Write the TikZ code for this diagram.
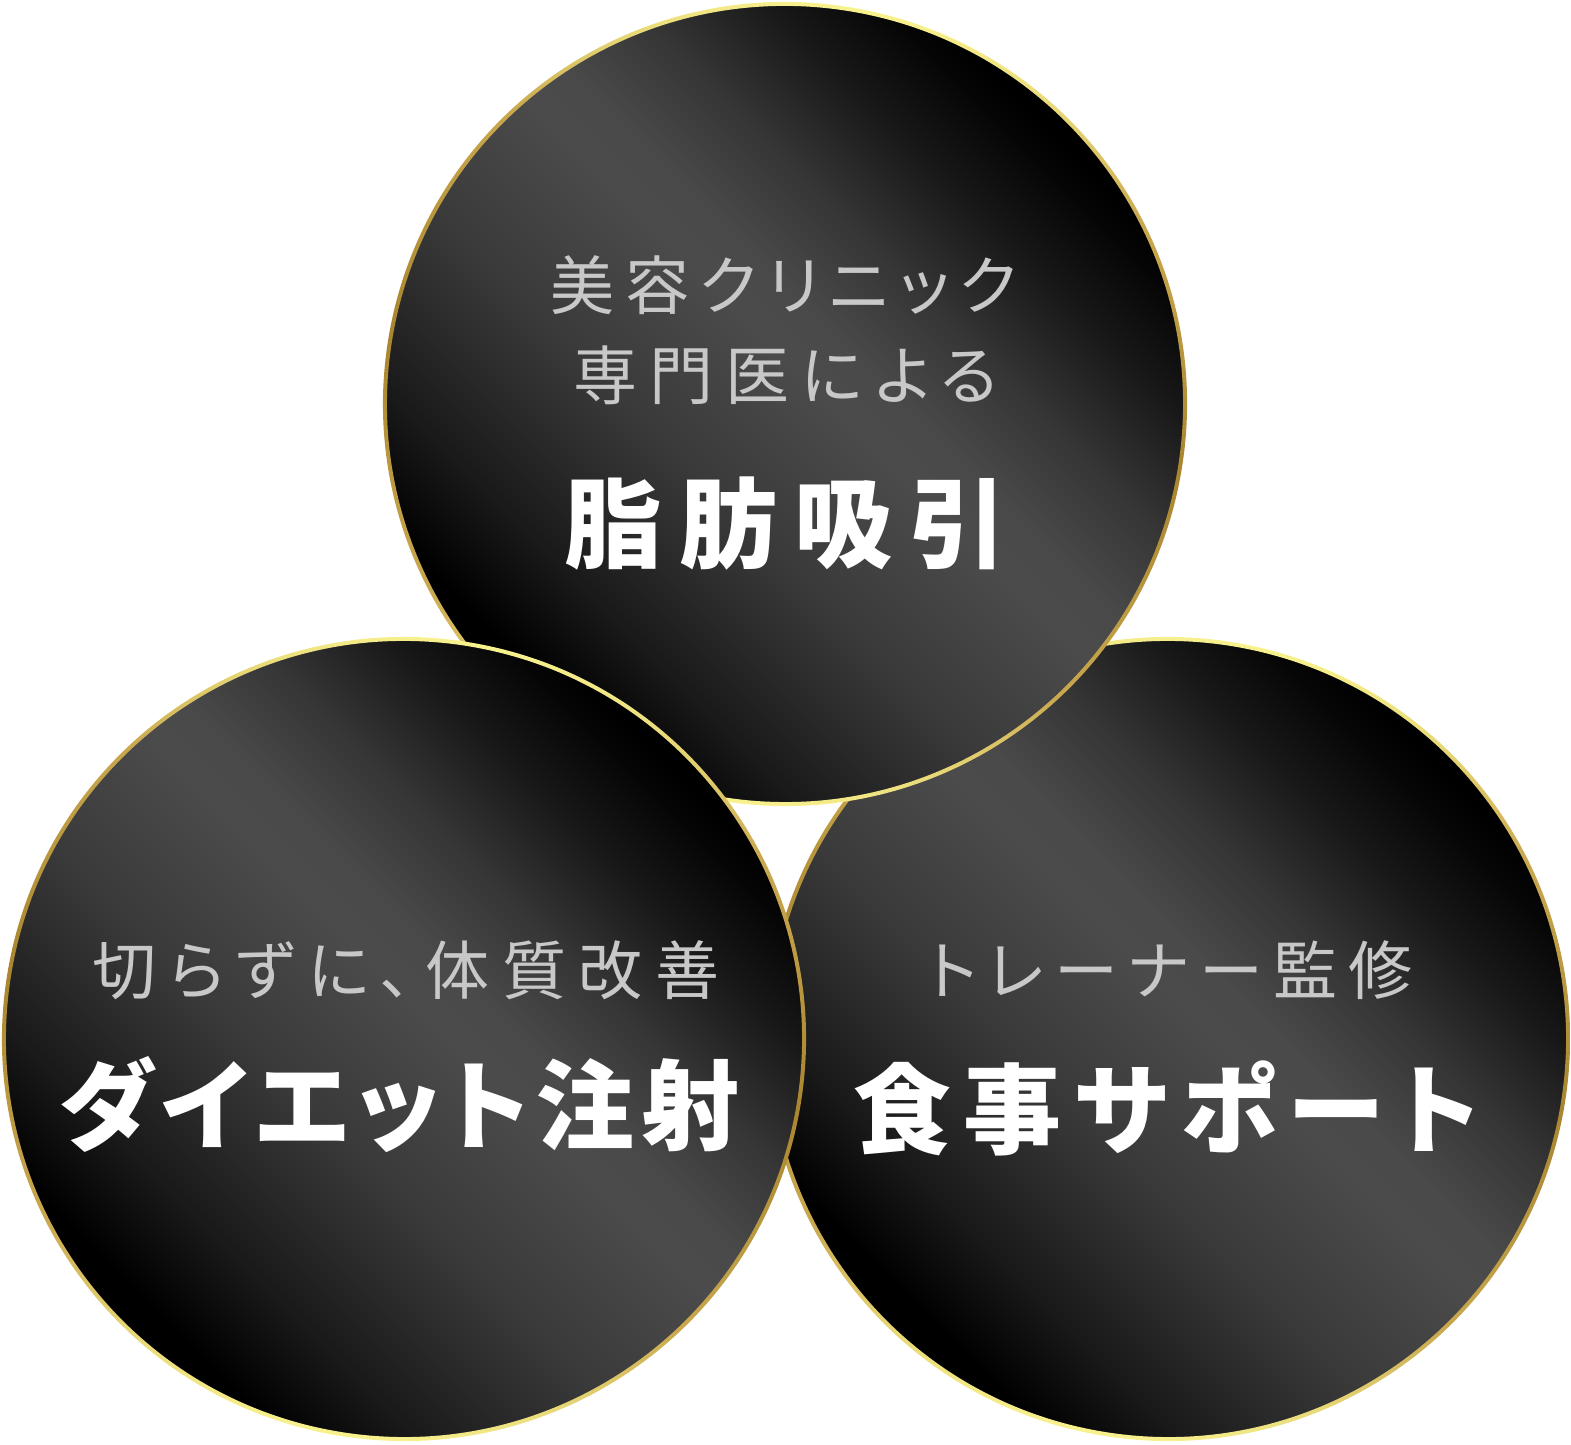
\documentclass[tikz,border=0pt]{standalone}
\usepackage{fontspec}
\usepackage{xcolor}
\setmainfont[RawFeature=+palt]{Noto Sans CJK JP}
\definecolor{subgray}{HTML}{C8C8C8}
% body: along the lower-left to upper-right diagonal, 25bp..75bp = one diameter
\pgfdeclarehorizontalshading{ballshade}{100bp}{rgb(0bp)=(0,0,0); rgb(27bp)=(0,0,0); rgb(33bp)=(.10,.10,.10); rgb(38bp)=(.165,.165,.165); rgb(43bp)=(.227,.227,.227); rgb(52bp)=(.294,.294,.294); rgb(55bp)=(.29,.29,.29); rgb(61bp)=(.208,.208,.208); rgb(67bp)=(.094,.094,.094); rgb(72bp)=(.02,.02,.02); rgb(74bp)=(0,0,0); rgb(100bp)=(0,0,0)}
% gold rim: light at top and bottom, dark at the sides
\pgfdeclareverticalshading{ringshade}{100bp}{rgb(0bp)=(.973,.949,.557); rgb(25bp)=(.973,.949,.557); rgb(29bp)=(.91,.847,.467); rgb(35bp)=(.788,.659,.31); rgb(50bp)=(.659,.522,.184); rgb(65bp)=(.788,.659,.31); rgb(71bp)=(.91,.847,.467); rgb(75bp)=(.973,.949,.557); rgb(100bp)=(.973,.949,.557)}
\tikzset{
  ball/.style={shading=ballshade},
  ring/.style={shading=ringshade, even odd rule},
  subline/.style={text=subgray, inner sep=0pt, font=\fontsize{64}{64}\selectfont},
  mainline/.style={text=white, inner sep=0pt, font=\fontsize{98}{98}\selectfont\bfseries},
}

\begin{document}
\begin{tikzpicture}[x=1pt,y=1pt]
                \useasboundingbox (0,0) rectangle (1571,1445);

                % circles, back to front
                \foreach \cx/\cy in {1168/406, 785/1041, 404/406} {
                    \begin{scope}[transform canvas={rotate around={45:(\cx,\cy)}}]
                        \shade[ball] (\cx,\cy) circle (400);
                    \end{scope}
                    \begin{scope}[transform canvas={rotate around={-10:(\cx,\cy)}}]
                        \shade[ring] (\cx,\cy) circle (402) (\cx,\cy) circle (398);
                    \end{scope}
                }

                \node[subline]  (lipoA)  at (784,1160) {\addfontfeature{LetterSpace=16}美容クリニック};
                \node[subline]  (lipoB)  at (786,1070) {\addfontfeature{LetterSpace=18.5}専門医による};
                \node[mainline] (lipo)   at (786,921)  {\addfontfeature{LetterSpace=17.5}脂肪吸引};

                \node[subline]  (injA)   at (406,475)  {\addfontfeature{LetterSpace=20}切らずに、体質改善};
                \node[mainline] (inj)    at (399,340)  {\addfontfeature{LetterSpace=7.5}ダイエット注射};

                \node[subline]  (dietA)  at (1170,475) {\addfontfeature{LetterSpace=16.5}トレーナー監修};
                \node[mainline] (diet)   at (1166,337) {\addfontfeature{LetterSpace=13}食事サポート};
            \end{tikzpicture}
\end{document}
